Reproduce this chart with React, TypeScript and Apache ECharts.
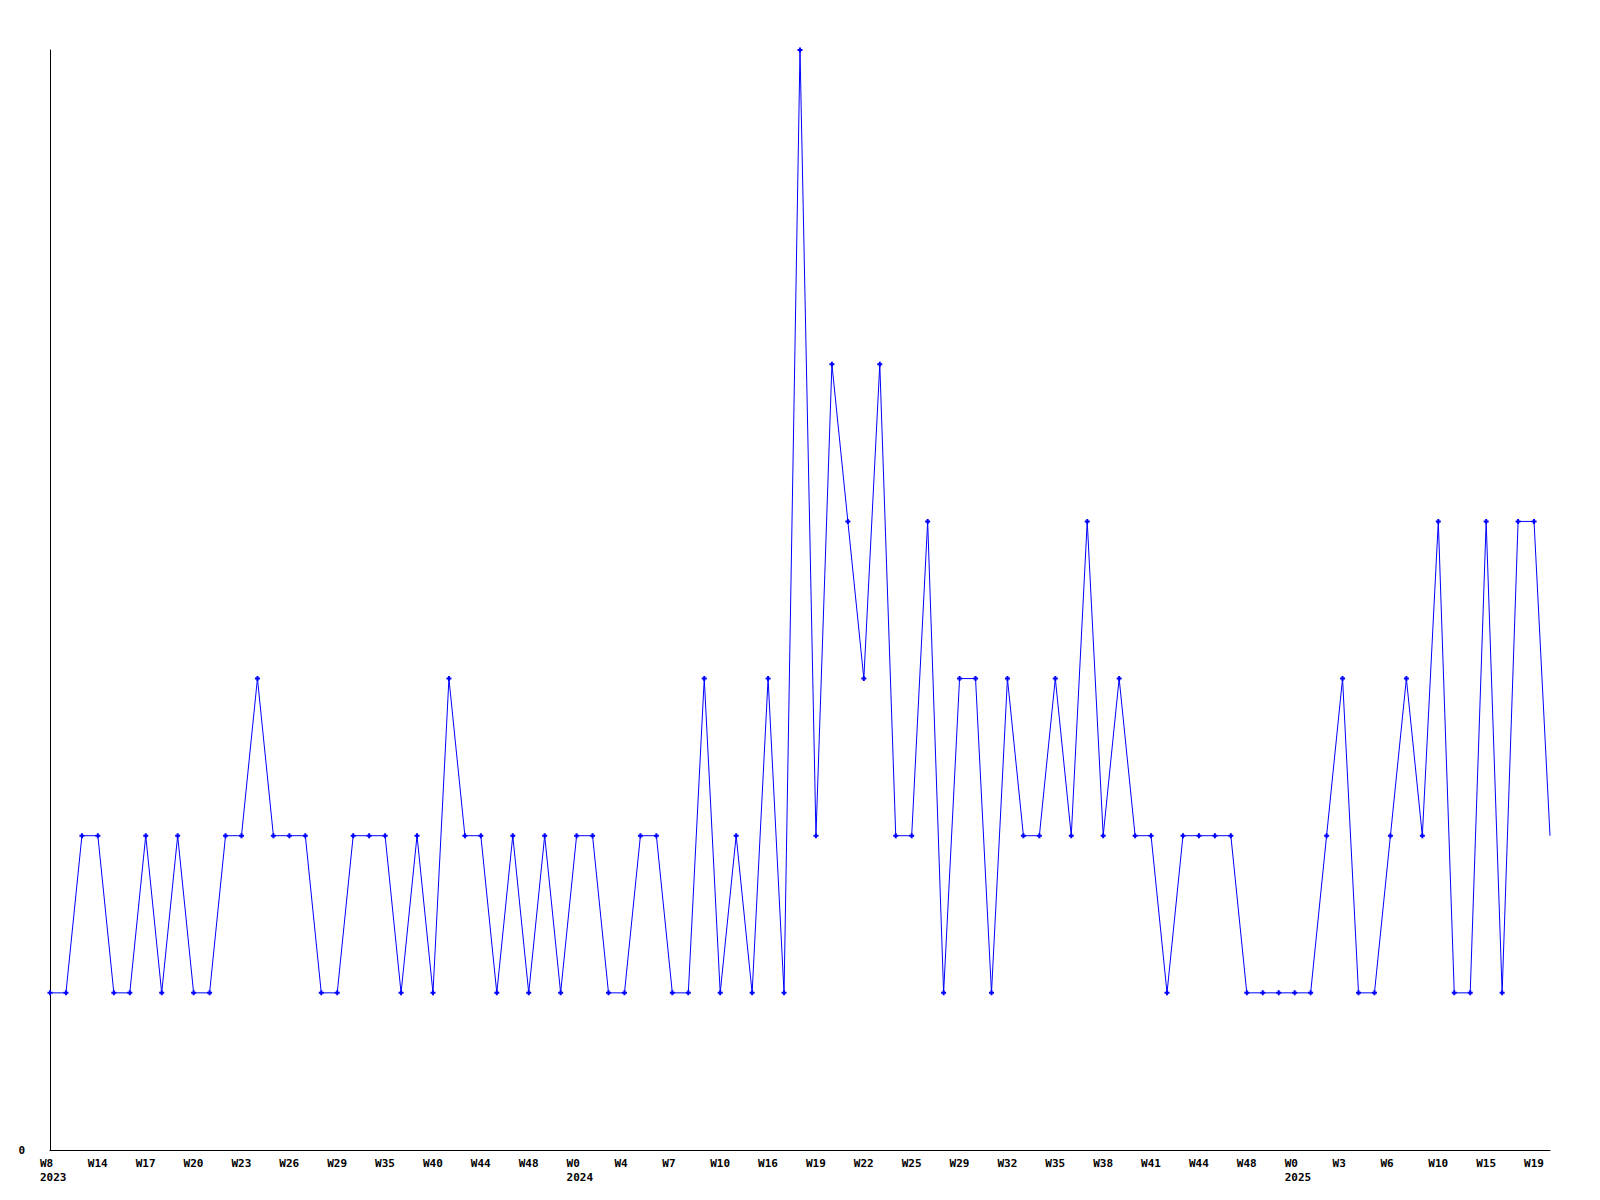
import React, { useEffect, useRef } from "react";
import * as echarts from "echarts";

// Weekly counts, one value per week that has data (95 weeks)
const values: number[] = [
  1, 1, 2, 2, 1, 1, 2, 1, 2, 1,
  1, 2, 2, 3, 2, 2, 2, 1, 1, 2,
  2, 2, 1, 2, 1, 3, 2, 2, 1, 2,
  1, 2, 1, 2, 2, 1, 1, 2, 2, 1,
  1, 3, 1, 2, 1, 3, 1, 7, 2, 5,
  4, 3, 5, 2, 2, 4, 1, 3, 3, 1,
  3, 2, 2, 3, 2, 4, 2, 3, 2, 2,
  1, 2, 2, 2, 2, 1, 1, 1, 1, 1,
  2, 3, 1, 1, 2, 3, 2, 4, 1, 1,
  4, 1, 4, 4, 2,
];

// Tick labels shown on every third week
const tickLabels: string[] = [
  "W8", "W14", "W17", "W20", "W23", "W26", "W29", "W35", "W40", "W44", "W48",
  "W0", "W4", "W7", "W10", "W16", "W19", "W22", "W25", "W29", "W32", "W35",
  "W38", "W41", "W44", "W48", "W0", "W3", "W6", "W10", "W15", "W19",
];

// Year shown under a tick label (by tick index)
const yearTickIndex: number[] = [0, 11, 26];
const yearLabels: string[] = ["2023", "2024", "2025"];

const categories: string[] = values.map((_, i) => String(i));

const FONT = "DejaVu Sans Mono";

export default function App() {
  const ref = useRef<HTMLDivElement>(null);

  useEffect(() => {
    if (!ref.current) return;
    const chart = echarts.init(ref.current, undefined, { renderer: "svg" });
    const seriesData = values.map((v, i) =>
      i === values.length - 1 ? { value: v, symbol: "none" } : v
    );
    chart.setOption({
      animation: false,
      backgroundColor: "#ffffff",
      grid: { left: 50, right: 50, top: 50, bottom: 50, containLabel: false },
      xAxis: {
        type: "category",
        data: categories,
        boundaryGap: false,
        axisLine: { show: true, lineStyle: { color: "#000000", width: 1 } },
        axisTick: { show: false },
        splitLine: { show: false },
        axisLabel: {
          interval: 2,
          margin: 6,
          color: "#000000",
          fontFamily: FONT,
          fontWeight: "bold",
          fontSize: 11,
          lineHeight: 14,
          align: "center",
          formatter: (_v: string, idx: number) => {
            const k = Math.round(idx / 3);
            const t = tickLabels[k] ?? "";
            const yi = yearTickIndex.indexOf(k);
            return yi >= 0 ? `{a|${t}}\n{a|${yearLabels[yi]}}` : `{a|${t}}`;
          },
          rich: {
            a: {
              width: 20,
              align: "left",
              color: "#000000",
              fontFamily: FONT,
              fontWeight: "bold",
              fontSize: 11,
              lineHeight: 14,
            },
          },
        },
      },
      yAxis: {
        type: "value",
        min: 0,
        max: 7,
        interval: 7,
        axisLine: { show: true, lineStyle: { color: "#000000", width: 1 } },
        axisTick: { show: false },
        splitLine: { show: false },
        axisLabel: {
          margin: 25,
          color: "#000000",
          fontFamily: FONT,
          fontWeight: "bold",
          fontSize: 11,
          formatter: (v: number) => (v === 0 ? "0" : ""),
        },
      },
      series: [
        {
          type: "line",
          data: seriesData,
          symbol: "path://M1.5,0H3.5V1.5H5V3.5H3.5V5H1.5V3.5H0V1.5H1.5Z",
          symbolSize: 5,
          showSymbol: true,
          itemStyle: { color: "#0000ff" },
          lineStyle: { color: "#0000ff", width: 1 },
        },
      ],
    });
    return () => chart.dispose();
  }, []);

  return (
    <div
      ref={ref}
      style={{ position: "fixed", left: 0, top: 0, width: 1600, height: 1200, background: "#fff" }}
    />
  );
}
